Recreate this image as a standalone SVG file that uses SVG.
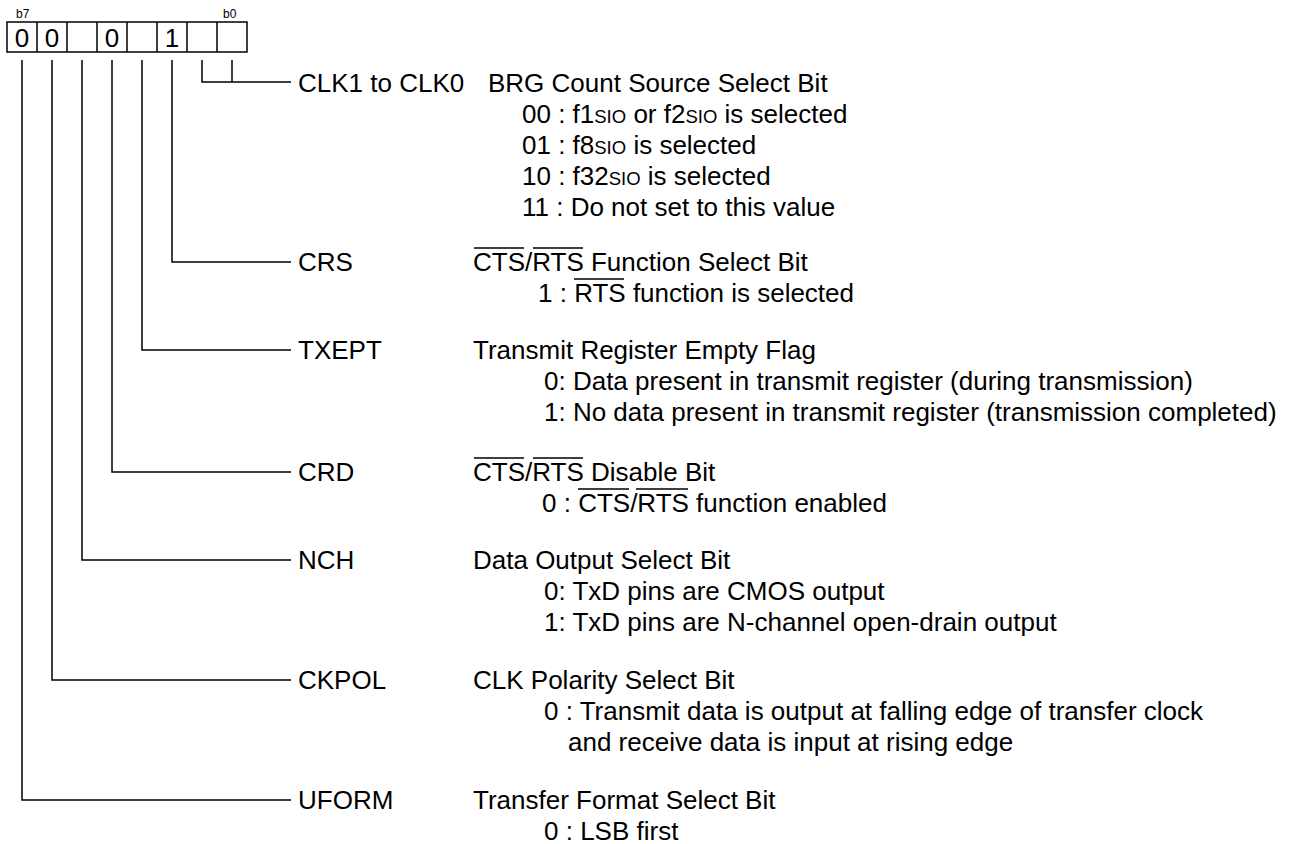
<svg xmlns="http://www.w3.org/2000/svg" width="1298" height="844" viewBox="0 0 1298 844">
<style>
text{font-family:"Liberation Sans",Arial,sans-serif;font-size:26px;fill:#000}
.sm{font-size:12px}
.sc{font-size:18.5px}
.ln{stroke:#000;stroke-width:1.5;fill:none}
.ov{stroke:#000;stroke-width:1.3}
</style>
<rect width="1298" height="844" fill="#fff"/>
<g id="register">
<rect x="7" y="22" width="240" height="30" class="ln" stroke-width="1.3"/>
<path class="ln" stroke-width="1.3" d="M37 22V52M67 22V52M97 22V52M127 22V52M157 22V52M187 22V52M217 22V52"/>
<text class="sm" x="16" y="18">b7</text>
<text class="sm" x="223" y="18">b0</text>
<text x="22" y="47" text-anchor="middle">0</text>
<text x="52" y="47" text-anchor="middle">0</text>
<text x="112" y="47" text-anchor="middle">0</text>
<text x="172" y="47" text-anchor="middle">1</text>
</g>
<g id="connectors">
<path class="ln" d="M202 60V82H291M232 60V82"/>
<path class="ln" d="M172 60V262H291"/>
<path class="ln" d="M142 60V350H291"/>
<path class="ln" d="M112 60V472H291"/>
<path class="ln" d="M82 60V560H291"/>
<path class="ln" d="M52 60V680H291"/>
<path class="ln" d="M22 60V800H291"/>
</g>
<g id="field-clk">
<text x="298" y="92">CLK1 to CLK0</text>
<text x="488" y="92">BRG Count Source Select Bit</text>
<text x="522" y="123">00 : f1<tspan class="sc">SIO</tspan> or f2<tspan class="sc">SIO</tspan> is selected</text>
<text x="522" y="154">01 : f8<tspan class="sc">SIO</tspan> is selected</text>
<text x="522" y="185">10 : f32<tspan class="sc">SIO</tspan> is selected</text>
<text x="522" y="216">11 : Do not set to this value</text>
</g>
<g id="field-crs">
<text x="298" y="271">CRS</text>
<text x="473" y="271">CTS/RTS Function Select Bit</text>
<path class="ov" d="M474 248H524M533 248H583"/>
<text x="538" y="302">1 : RTS function is selected</text>
<path class="ov" d="M574 279H624"/>
</g>
<g id="field-txept">
<text x="298" y="359">TXEPT</text>
<text x="473" y="359">Transmit Register Empty Flag</text>
<text x="544" y="390">0: Data present in transmit register (during transmission)</text>
<text x="544" y="421">1: No data present in transmit register (transmission completed)</text>
</g>
<g id="field-crd">
<text x="298" y="481">CRD</text>
<text x="473" y="481">CTS/RTS Disable Bit</text>
<path class="ov" d="M474 458H524M533 458H583"/>
<text x="542" y="512">0 : CTS/RTS function enabled</text>
<path class="ov" d="M578 489H629M636 489H688"/>
</g>
<g id="field-nch">
<text x="298" y="569">NCH</text>
<text x="473" y="569">Data Output Select Bit</text>
<text x="544" y="600">0: TxD pins are CMOS output</text>
<text x="544" y="631">1: TxD pins are N-channel open-drain output</text>
</g>
<g id="field-ckpol">
<text x="298" y="689">CKPOL</text>
<text x="473" y="689">CLK Polarity Select Bit</text>
<text x="544" y="720">0 : Transmit data is output at falling edge of transfer clock</text>
<text x="568" y="751">and receive data is input at rising edge</text>
</g>
<g id="field-uform">
<text x="298" y="809">UFORM</text>
<text x="473" y="809">Transfer Format Select Bit</text>
<text x="544" y="840">0 : LSB first</text>
</g>
</svg>
